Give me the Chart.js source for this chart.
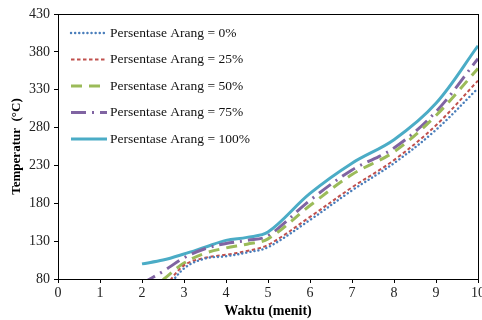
<!DOCTYPE html>
<html>
<head>
<meta charset="utf-8">
<script src="https://cdn.jsdelivr.net/npm/chart.js@4.4.1/dist/chart.umd.min.js"></script>
<style>
html, body { margin: 0; padding: 0; background: #fff; }
#box { width: 482px; height: 320px; }
</style>
</head>
<body>
<div id="box"><canvas id="suhuChart"></canvas></div>
<script>
// waktu (menit) dan temperatur tiap persentase arang
var waktu = [2, 2.5, 3, 3.5, 4, 4.5, 5, 6, 7, 8, 9, 10];
var arang0   = [null, 60, 94, 107, 110, 115, 122, 158, 197, 233, 277, 332];
var arang25  = [null, 66, 98, 108, 112, 117, 125, 162, 201, 237, 283, 342];
var arang50  = [null, 79, 101, 114, 121, 126, 133, 177, 218, 248, 296, 358];
var arang75  = [74, 90, 108, 120, 127, 131, 137, 184, 224, 253, 301, 371];
var arang100 = [100, 105, 113, 122, 131, 135, 142, 193, 233, 264, 312, 388];
var yTicks = [80, 130, 180, 230, 280, 330, 380, 430];
var labels = ["Persentase Arang = 0%", "Persentase Arang = 25%", "Persentase Arang = 50%", "Persentase Arang = 75%", "Persentase Arang = 100%"];

function toPoints(vals)
{
    var pts = [];
    for (var i = 0; i < waktu.length; i++)
    {
        if (vals[i] !== null) pts.push({x: waktu[i], y: vals[i]});
    }
    return pts;
}

var serif = "'Liberation Serif', 'DejaVu Serif', serif";

var frameAndLegend = {
    id: 'frameAndLegend',
    afterDatasetsDraw: function (chart) {
        var ctx = chart.ctx;
        var a = chart.chartArea;
        ctx.save();
        ctx.strokeStyle = '#000';
        ctx.lineWidth = 1;
        ctx.strokeRect(a.left + 0.5, a.top + 0.5, a.right - a.left, a.bottom - a.top);
        // legend drawn inside plot, vertical list
        ctx.font = "13.5px " + serif;
        ctx.textBaseline = 'middle';
        ctx.fillStyle = '#111';
        chart.data.datasets.forEach(function (ds, i) {
            var y = 33 + i * 26.5;
            ctx.beginPath();
            ctx.strokeStyle = ds.borderColor;
            ctx.lineWidth = ds.borderWidth;
            ctx.lineCap = ds.borderCapStyle || 'butt';
            ctx.setLineDash(ds.borderDash || []);
            ctx.moveTo(71, y);
            ctx.lineTo(107, y);
            ctx.stroke();
            ctx.setLineDash([]);
            ctx.fillText(ds.label, 110, y);
        });
        ctx.restore();
    }
};

var chart = new Chart(document.getElementById('suhuChart'), {
    type: 'line',
    data: {
        datasets: [
            {label: labels[0], data: toPoints(arang0), borderColor: '#4a7ebb', borderWidth: 2.4, borderDash: [0.1, 4], borderCapStyle: 'round'},
            {label: labels[1], data: toPoints(arang25), borderColor: '#c0504d', borderWidth: 2, borderDash: [3.5, 2.5]},
            {label: labels[2], data: toPoints(arang50), borderColor: '#9bbb59', borderWidth: 3, borderDash: [11, 7]},
            {label: labels[3], data: toPoints(arang75), borderColor: '#8064a2', borderWidth: 3, borderDash: [15, 6, 2, 6]},
            {label: labels[4], data: toPoints(arang100), borderColor: '#4bacc6', borderWidth: 3}
        ]
    },
    options: {
        responsive: true,
        maintainAspectRatio: false,
        animation: false,
        layout: { padding: { top: 14, right: 4, left: 0, bottom: 0 } },
        elements: {
            point: { radius: 0 },
            line: { tension: 0.35, fill: false }
        },
        plugins: {
            legend: { display: false },
            tooltip: { enabled: false }
        },
        scales: {
            x: {
                type: 'linear',
                min: 0,
                max: 10,
                ticks: { stepSize: 1, color: '#222', font: { family: serif, size: 14 }, padding: 2, autoSkip: false, maxRotation: 0 },
                grid: { display: true, drawOnChartArea: false, drawTicks: true, tickLength: 4, color: '#000' },
                border: { display: true, color: '#000' },
                title: { display: true, text: 'Waktu (menit)', color: '#000', font: { family: serif, size: 14, weight: 'bold' }, padding: { top: 0, bottom: 0 } },
                afterFit: function (s) { s.height = 41; s.paddingRight = 0; s.paddingLeft = 0; }
            },
            y: {
                min: 80,
                max: 430,
                afterBuildTicks: function (s) { s.ticks = yTicks.map(function (v) { return {value: v}; }); },
                ticks: { color: '#222', font: { family: serif, size: 14 }, padding: 4 },
                grid: { display: true, drawOnChartArea: false, drawTicks: true, tickLength: 4, color: '#000' },
                border: { display: true, color: '#000' },
                title: { display: true, text: 'Temperatur  (°C)', color: '#000', font: { family: serif, size: 13, weight: 'bold' }, padding: { top: 9, bottom: 0 } },
                afterFit: function (s) { s.width = 58; s.paddingTop = 0; s.paddingBottom = 0; }
            }
        }
    },
    plugins: [frameAndLegend]
});
</script>
</body>
</html>
